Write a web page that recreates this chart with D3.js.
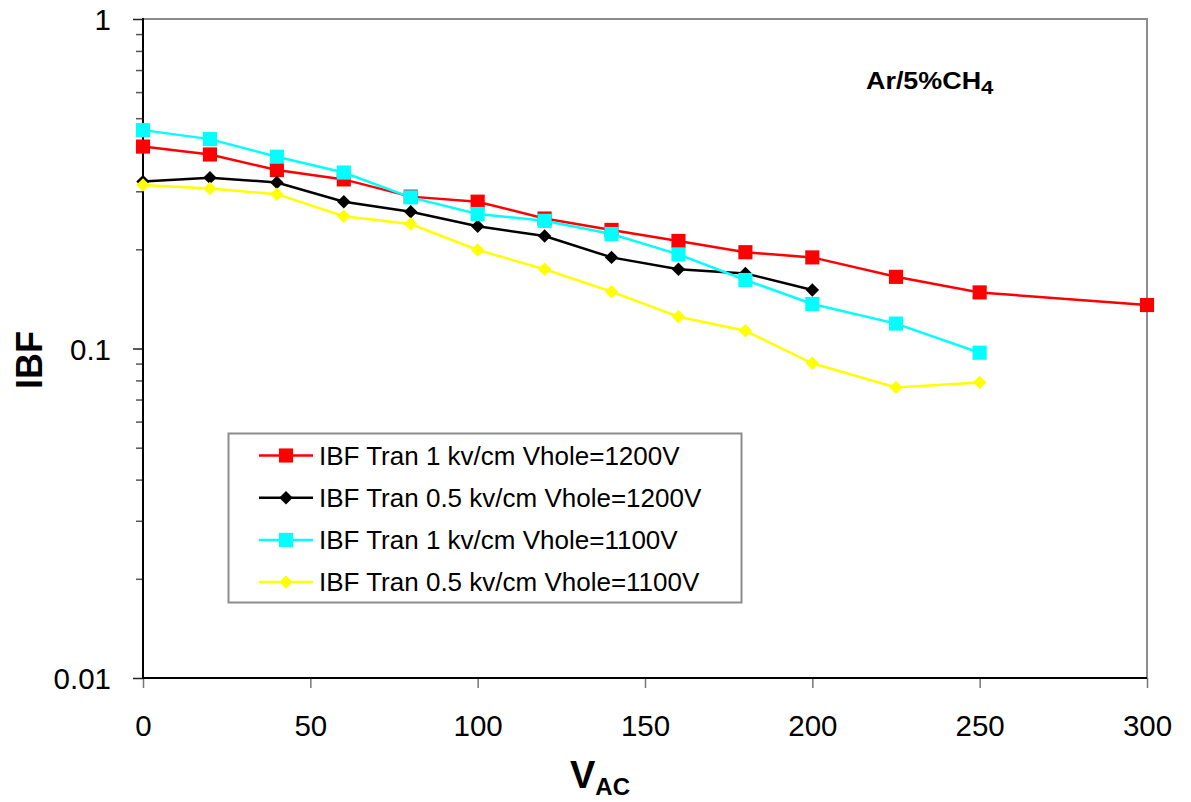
<!DOCTYPE html>
<html>
<head>
<meta charset="utf-8">
<script src="https://cdn.jsdelivr.net/npm/d3@7/dist/d3.min.js"></script>
<style>
  html, body { margin: 0; padding: 0; background: #fff; }
  svg { display: block; font-family: "Liberation Sans", Arial, sans-serif; }
</style>
</head>
<body>
<svg id="chart" width="1191" height="802"></svg>
<script>
// IBF versus V_AC, Ar/5%CH4
const xRed = [0, 20, 40, 60, 80, 100, 120, 140, 160, 180, 200, 225, 250, 300];
const yRed = [0.410, 0.388, 0.348, 0.326, 0.289, 0.279, 0.248, 0.229, 0.212, 0.196, 0.189, 0.165, 0.148, 0.1355];

const xBlack = [0, 20, 40, 60, 80, 100, 120, 140, 160, 180, 200];
const yBlack = [0.321, 0.330, 0.319, 0.279, 0.260, 0.235, 0.2195, 0.189, 0.174, 0.169, 0.1505];

const xCyan = [0, 20, 40, 60, 80, 100, 120, 140, 160, 180, 200, 225, 250];
const yCyan = [0.460, 0.432, 0.382, 0.342, 0.2875, 0.256, 0.244, 0.2226, 0.193, 0.1614, 0.1365, 0.119, 0.0971];

const xYellow = [0, 20, 40, 60, 80, 100, 120, 140, 160, 180, 200, 225, 250];
const yYellow = [0.3134, 0.306, 0.294, 0.252, 0.2386, 0.199, 0.174, 0.1488, 0.1249, 0.1132, 0.0902, 0.0762, 0.0789];

const seriesNames = [
  "IBF Tran 1 kv/cm Vhole=1200V",
  "IBF Tran 0.5 kv/cm Vhole=1200V",
  "IBF Tran 1 kv/cm Vhole=1100V",
  "IBF Tran 0.5 kv/cm Vhole=1100V"
];

const xTicks = [0, 50, 100, 150, 200, 250, 300];
const yMajorTicks = [0.01, 0.1, 1];
const yTickLabels = ["0.01", "0.1", "1"];

const series = [
  { name: seriesNames[0], xs: xRed, ys: yRed, color: "#ff0000", symbol: "square" },
  { name: seriesNames[1], xs: xBlack, ys: yBlack, color: "#000000", symbol: "diamond" },
  { name: seriesNames[2], xs: xCyan, ys: yCyan, color: "#00ffff", symbol: "square" },
  { name: seriesNames[3], xs: xYellow, ys: yYellow, color: "#ffff00", symbol: "diamond" }
];

const svg = d3.select("#chart");
const plotL = 143, plotR = 1147, plotT = 19, plotB = 678;

const x = d3.scaleLinear().domain([0, 300]).range([plotL, plotR]);
const y = d3.scaleLog().domain([0.01, 1]).range([plotB, plotT]);

// Minor ticks on the log axis: 2..9 in each decade
const yMinor = [];
[0.01, 0.1].forEach(d => { for (let k = 2; k <= 9; k++) yMinor.push(d * k); });

// Plot area frame (grey top/right)
svg.append("rect")
  .attr("x", plotL).attr("y", plotT)
  .attr("width", plotR - plotL).attr("height", plotB - plotT)
  .attr("fill", "#fff").attr("stroke", "#8c8c8c").attr("stroke-width", 2);

// Y axis minor ticks
const yMinorAxis = svg.append("g")
  .attr("transform", `translate(${plotL},0)`)
  .call(d3.axisLeft(y).tickValues(yMinor).tickSize(7).tickFormat(""));
yMinorAxis.select(".domain").remove();
yMinorAxis.selectAll(".tick line").attr("stroke", "#555").attr("stroke-width", 1.5);

// Y axis major ticks and labels
const yAxis = svg.append("g")
  .attr("transform", `translate(${plotL},0)`)
  .call(d3.axisLeft(y).tickValues(yMajorTicks).tickSize(10).tickPadding(22)
    .tickFormat((d, i) => yTickLabels[i]));
yAxis.select(".domain").remove();
yAxis.selectAll(".tick line").attr("stroke", "#222").attr("stroke-width", 1.5);
yAxis.selectAll(".tick text")
  .attr("fill", "#000").style("font-size", "29.5px")
  .attr("dy", "0.36em");

// X axis
const xAxis = svg.append("g")
  .attr("transform", `translate(0,${plotB})`)
  .call(d3.axisBottom(x).tickValues(xTicks).tickSize(10).tickPadding(27).tickFormat(d3.format("d")));
xAxis.select(".domain").remove();
xAxis.selectAll(".tick line").attr("stroke", "#777").attr("stroke-width", 1.5);
xAxis.selectAll(".tick text")
  .attr("fill", "#000").style("font-size", "29.5px");

// Black left and bottom axis lines
svg.append("line").attr("x1", plotL).attr("x2", plotL).attr("y1", plotT - 1).attr("y2", plotB + 1)
  .attr("stroke", "#000").attr("stroke-width", 2);
svg.append("line").attr("x1", plotL - 1).attr("x2", plotR).attr("y1", plotB).attr("y2", plotB)
  .attr("stroke", "#000").attr("stroke-width", 2);

// Data lines and markers
const line = d3.line().x(d => x(d[0])).y(d => y(d[1]));
const symSquare = d3.symbol().type(d3.symbolSquare).size(200);
const symDiamond = d3.symbol().type(d3.symbolSquare).size(90);

function drawMarker(g, s, cx, cy) {
  if (s.symbol === "square") {
    g.append("path").attr("d", symSquare())
      .attr("transform", `translate(${cx},${cy})`)
      .attr("fill", s.color);
  } else {
    g.append("path").attr("d", symDiamond())
      .attr("transform", `translate(${cx},${cy}) rotate(45)`)
      .attr("fill", s.color);
  }
}

series.forEach(s => {
  const pts = s.xs.map((v, i) => [v, s.ys[i]]);
  const g = svg.append("g");
  g.append("path").datum(pts)
    .attr("d", line)
    .attr("fill", "none").attr("stroke", s.color).attr("stroke-width", 2.5);
  pts.forEach(p => drawMarker(g, s, x(p[0]), y(p[1])));
});

// Legend
const lg = svg.append("g");
lg.append("rect").attr("x", 228.5).attr("y", 433.5).attr("width", 513).attr("height", 169)
  .attr("fill", "#fff").attr("stroke", "#8c8c8c").attr("stroke-width", 2);
series.forEach((s, i) => {
  const cy = 455.5 + i * 42.2;
  lg.append("line").attr("x1", 259).attr("x2", 313).attr("y1", cy).attr("y2", cy)
    .attr("stroke", s.color).attr("stroke-width", 2.5);
  drawMarker(lg, s, 286, cy);
  lg.append("text").attr("x", 319).attr("y", cy).attr("dy", "0.36em")
    .style("font-size", "26px").attr("fill", "#000").text(s.name);
});

// Gas mixture annotation
const ann = svg.append("text").attr("transform", "translate(866,89) scale(1.17,1)")
  .style("font-size", "23px").style("font-weight", "bold").attr("fill", "#000");
ann.append("tspan").text("Ar/5%CH");
ann.append("tspan").attr("dy", 5).style("font-size", "19px").text("4");

// Axis titles
svg.append("text")
  .attr("transform", `translate(42,360) rotate(-90)`)
  .attr("text-anchor", "middle")
  .style("font-size", "36px").style("font-weight", "bold").attr("fill", "#000")
  .text("IBF");

const xt = svg.append("text").attr("x", 570).attr("y", 788)
  .style("font-size", "38px").style("font-weight", "bold").attr("fill", "#000");
xt.append("tspan").text("V");
xt.append("tspan").attr("dy", 7).style("font-size", "24px").text("AC");
</script>
</body>
</html>
